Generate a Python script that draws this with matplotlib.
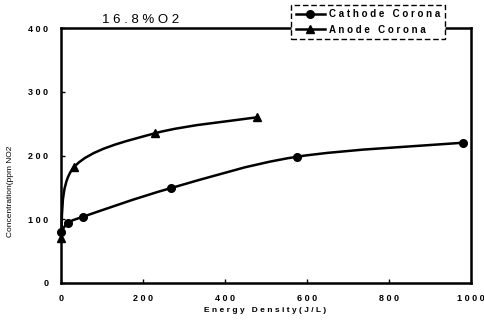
import numpy as np
import matplotlib
matplotlib.use("Agg")
import matplotlib.pyplot as plt
from matplotlib.path import Path
from matplotlib.patches import PathPatch
from matplotlib.lines import Line2D

plt.rcParams['font.family'] = ['Liberation Sans', 'DejaVu Sans']

# Energy density (J/L) and NO2 concentration (ppm)
cathode_x = [0, 17, 54, 269, 575, 980]
cathode_y = [80, 94, 104, 149, 198, 220]
anode_x = [0, 32, 230, 479]
anode_y = [71, 182, 235, 260]

title_text = "1 6 . 8 % O 2"
xlabel_text = "E n e r g y   D e n s i t y ( J / L )"
ylabel_text = "Concentration(ppm NO2"
legend_labels = ["C a t h o d e   C o r o n a", "A n o d e   C o r o n a"]
xticks = [0, 200, 400, 600, 800, 1000]
yticks = [0, 100, 200, 300, 400]

fig = plt.figure(figsize=(4.84, 3.22), dpi=100)
ax = fig.add_axes([61/484, 1-283/322, 410/484, 255/322])
ax.set_xlim(0, 1000)
ax.set_ylim(0, 400)


def smooth_path(xs, ys):
    """Smoothed curve through the points, built from cubic Bezier segments
    computed in display space."""
    pts = ax.transData.transform(np.column_stack([xs, ys]))
    n = len(pts)
    verts = [pts[0]]
    codes = [Path.MOVETO]
    for i in range(n - 1):
        p0 = pts[i - 1] if i > 0 else pts[i]
        p1 = pts[i]
        p2 = pts[i + 1]
        p3 = pts[i + 2] if i + 2 < n else pts[i + 1]
        c1 = p1 + (p2 - p0) / 6.0
        c2 = p2 - (p3 - p1) / 6.0
        verts += [c1, c2, p2]
        codes += [Path.CURVE4] * 3
    verts = ax.transData.inverted().transform(np.array(verts))
    return Path(verts, codes)


for xs, ys in [(cathode_x, cathode_y), (anode_x, anode_y)]:
    ax.add_patch(PathPatch(smooth_path(xs, ys), facecolor='none',
                           edgecolor='black', lw=1.8, clip_on=False,
                           capstyle='round', joinstyle='round'))

ax.plot(cathode_x, cathode_y, 'o', color='black', ms=5.5, clip_on=False, zorder=5)
ax.plot(anode_x, anode_y, '^', color='black', ms=5.5, clip_on=False, zorder=5)

for s in ax.spines.values():
    s.set_linewidth(1.8)

ax.set_xticks(xticks)
ax.set_yticks(yticks)
ax.set_xticklabels([" ".join(str(t)) for t in xticks])
ax.set_yticklabels([" ".join(str(t)) for t in yticks])
ax.tick_params(direction='in', length=3, width=1, labelsize=6.5, pad=8)
for lab in ax.get_xticklabels() + ax.get_yticklabels():
    lab.set_fontweight('bold')
ax.tick_params(axis='y', pad=9)

fig.text(141/484, 1-20/322, title_text, ha='center', va='center', fontsize=9.5)
fig.text(265/484, 1-310/322, xlabel_text, ha='center', va='center',
         fontsize=6, fontweight='bold')
fig.text(11/484, 1-191/322, ylabel_text, ha='center', va='center',
         fontsize=6, rotation=90)

handles = [
    Line2D([], [], color='black', lw=1.8, marker='o', ms=5.5),
    Line2D([], [], color='black', lw=1.8, marker='^', ms=5.5),
]
leg = fig.legend(handles, legend_labels, loc='center',
                 bbox_to_anchor=(368/484, 1-22/322), fontsize=7,
                 handlelength=3.0, handletextpad=0.4, borderpad=0.45,
                 borderaxespad=0, labelspacing=0.55, fancybox=False,
                 framealpha=1)
leg.get_frame().set_edgecolor('black')
leg.get_frame().set_linestyle((0, (4, 2)))
leg.get_frame().set_linewidth(1.0)
for t in leg.get_texts():
    t.set_fontweight('bold')

fig.savefig("out.png", dpi=100)
